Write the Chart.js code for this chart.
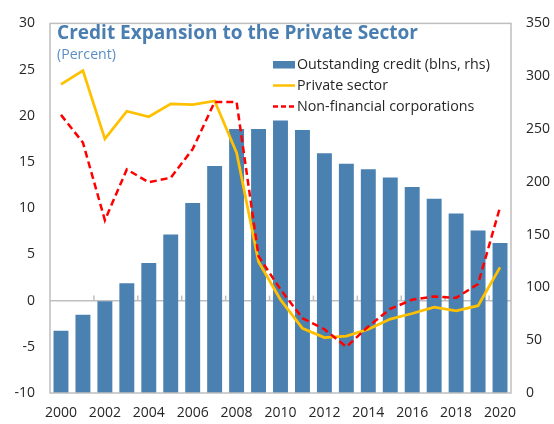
<!DOCTYPE html>
<html><head><meta charset="utf-8">
<script src="https://cdn.jsdelivr.net/npm/chart.js@4.4.1/dist/chart.umd.min.js"></script>
<style>html,body{margin:0;padding:0;background:#fff;}#wrap{width:554px;height:424px;}</style>
</head><body><div id="wrap"><canvas id="c" width="554" height="424"></canvas></div>
<script>
const years = ['2000','2001','2002','2003','2004','2005','2006','2007','2008','2009','2010',
               '2011','2012','2013','2014','2015','2016','2017','2018','2019','2020'];
const outstandingCredit = [59, 74, 87, 104, 123, 150, 180, 215, 250, 250, 258,
                           249, 227, 217, 212, 204, 195, 184, 170, 154, 142];
const privateSector = [23.4, 24.9, 17.5, 20.5, 19.9, 21.3, 21.2, 21.6, 16.0, 4.2, 0.1,
                       -3.0, -4.0, -3.85, -3.1, -2.0, -1.4, -0.7, -1.1, -0.55, 3.6];
const nonFinancialCorp = [20.1, 17.1, 8.7, 14.2, 12.8, 13.3, 16.4, 21.5, 21.5, 4.8, 1.2,
                          -1.9, -3.1, -5.0, -2.8, -0.9, 0.1, 0.45, 0.3, 1.8, 10.1];
const seriesLabels = ['Outstanding credit (blns, rhs)', 'Private sector', 'Non-financial corporations'];
const titleText = 'Credit Expansion to the Private Sector';
const subtitleText = '(Percent)';

const FONT = '"Open Sans", "Noto Sans", sans-serif';
const TXT = '#262626';
const BLUE = '#4a81b1';
const YEL = '#ffc000';
const RED = '#ff0000';
const FRAME = '#bfbfbf';

function fitFont(ctx, text, weight, target) {
  ctx.font = weight + ' 20px ' + FONT;
  const w = ctx.measureText(text).width;
  return 20 * target / w;
}

const decor = {
  id: 'decor',
  beforeDatasetsDraw(chart) {
    const ctx = chart.ctx, xs = chart.scales.x, ys = chart.scales.y;
    const y0 = ys.getPixelForValue(0);
    ctx.save();
    ctx.strokeStyle = FRAME; ctx.lineWidth = 1.5;
    for (let k = 2; k < years.length; k += 2) {
      const x = xs.getPixelForValue(k - 0.5);
      ctx.beginPath(); ctx.moveTo(x, y0); ctx.lineTo(x, y0 - 5); ctx.stroke();
    }
    ctx.restore();
  },
  afterDraw(chart) {
    const ctx = chart.ctx, a = chart.chartArea;
    ctx.save();
    ctx.strokeStyle = FRAME; ctx.lineWidth = 1.5;
    ctx.strokeRect(a.left, a.top, a.right - a.left, a.bottom - a.top);
    // title
    ctx.fillStyle = '#4a7eb0';
    ctx.textAlign = 'left'; ctx.textBaseline = 'alphabetic';
    let fs = fitFont(ctx, titleText, 'bold', 361);
    ctx.font = 'bold ' + fs + 'px ' + FONT;
    ctx.fillText(titleText, a.left + 7, 39);
    ctx.fillStyle = '#5a8fc4';
    fs = fitFont(ctx, subtitleText, 'normal', 59);
    ctx.font = 'normal ' + fs + 'px ' + FONT;
    ctx.fillText(subtitleText, a.left + 7, 59);
    // legend
    const lx = 273, tx = 297;
    const rows = [64.5, 85.5, 106.5];
    fs = fitFont(ctx, seriesLabels[0], 'normal', 193);
    ctx.font = 'normal ' + fs + 'px ' + FONT;
    ctx.fillStyle = TXT; ctx.textBaseline = 'middle';
    seriesLabels.forEach((t, i) => ctx.fillText(t, tx, rows[i]));
    ctx.fillStyle = BLUE;
    ctx.fillRect(lx, rows[0] - 3.5, 22, 7.5);
    ctx.strokeStyle = YEL; ctx.lineWidth = 2.5;
    ctx.beginPath(); ctx.moveTo(lx, rows[1]); ctx.lineTo(lx + 22, rows[1]); ctx.stroke();
    ctx.strokeStyle = RED; ctx.setLineDash([5, 3]);
    ctx.beginPath(); ctx.moveTo(lx, rows[2]); ctx.lineTo(lx + 22, rows[2]); ctx.stroke();
    ctx.restore();
  }
};

const tickFont = { family: FONT, size: 14 };

new Chart(document.getElementById('c'), {
  data: {
    labels: years,
    datasets: [
      { type: 'line', label: seriesLabels[2], data: nonFinancialCorp, yAxisID: 'y',
        borderColor: RED, borderWidth: 2.5, borderDash: [7, 4], pointRadius: 0, tension: 0, fill: false, order: 1 },
      { type: 'line', label: seriesLabels[1], data: privateSector, yAxisID: 'y',
        borderColor: YEL, borderWidth: 2.75, pointRadius: 0, tension: 0, fill: false, order: 2 },
      { type: 'bar', label: seriesLabels[0], data: outstandingCredit, yAxisID: 'y1',
        backgroundColor: BLUE, categoryPercentage: 1, barPercentage: 0.68, order: 3 }
    ]
  },
  options: {
    responsive: false, animation: false, devicePixelRatio: 1,
    layout: { padding: { top: 17, left: 0, right: 0, bottom: 0 } },
    plugins: { legend: { display: false }, tooltip: { enabled: false }, title: { display: false } },
    scales: {
      x: {
        offset: true,
        grid: { display: false, drawTicks: false },
        border: { display: false },
        ticks: { autoSkip: false, maxRotation: 0, minRotation: 0, padding: 12, color: TXT, font: tickFont,
                 callback: (v, i) => (i % 2 === 0 ? years[i] : '') },
        afterFit: s => { s.height = 31; }
      },
      y: {
        position: 'left', min: -10, max: 30,
        ticks: { stepSize: 5, padding: 15, color: TXT, font: tickFont },
        grid: { drawTicks: false, lineWidth: 1.5,
                color: c => (c.tick && c.tick.value === 0 ? FRAME : 'rgba(0,0,0,0)') },
        border: { display: false },
        afterFit: s => { s.width = 50; }
      },
      y1: {
        position: 'right', min: 0, max: 350,
        ticks: { stepSize: 50, padding: 15, color: TXT, font: tickFont },
        grid: { display: false, drawTicks: false },
        border: { display: false },
        afterFit: s => { s.width = 43; }
      }
    }
  },
  plugins: [decor]
});
</script>
</body></html>
